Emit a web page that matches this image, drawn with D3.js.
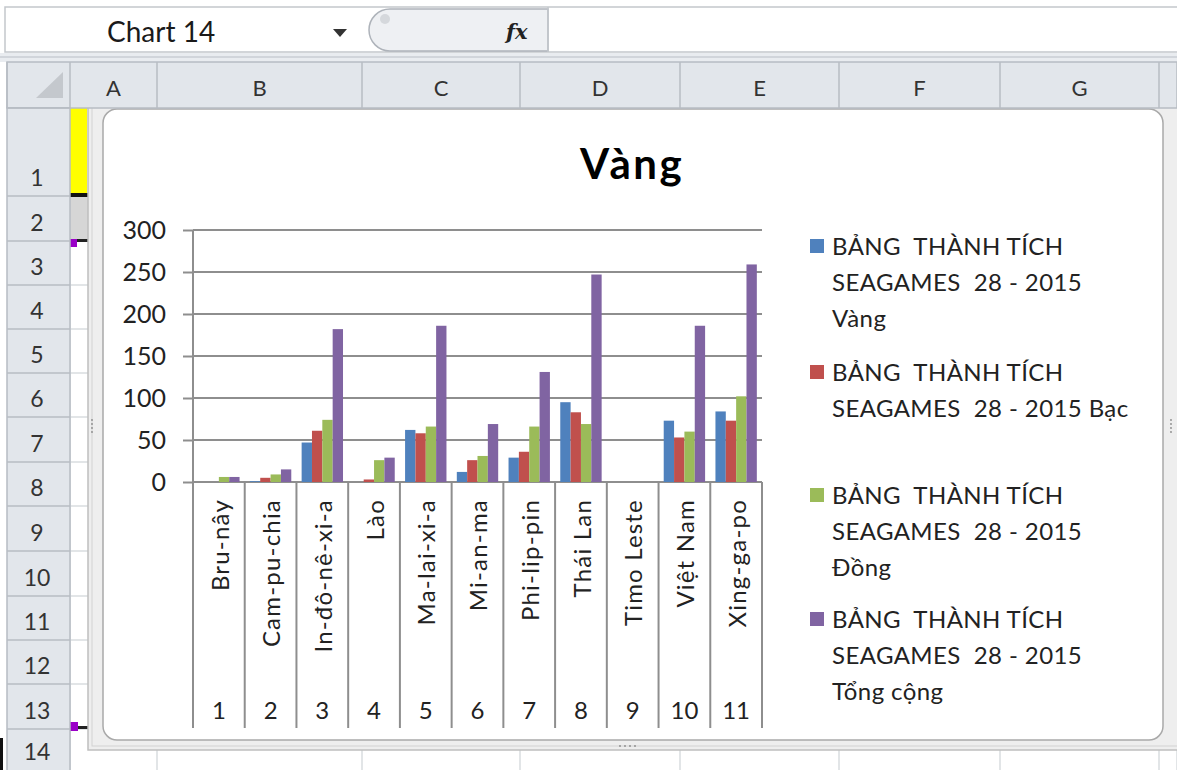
<!DOCTYPE html>
<html>
<head>
<meta charset="utf-8">
<script src="https://cdn.jsdelivr.net/npm/d3@7"></script>
<style>
  html, body { margin: 0; padding: 0; background: #ffffff; }
  svg { display: block; font-family: Lato, "Open Sans", "DejaVu Sans", sans-serif; }
</style>
</head>
<body>
<svg id="sheet" width="1177" height="770"></svg>
<script>
// ---- chart data: SEA Games 28 (2015) medal table ----
const countries = ["Bru-nây", "Cam-pu-chia", "In-đô-nê-xi-a", "Lào", "Ma-lai-xi-a", "Mi-an-ma",
                   "Phi-lip-pin", "Thái Lan", "Timo Leste", "Việt Nam", "Xing-ga-po"];
const rankLabels = ["1", "2", "3", "4", "5", "6", "7", "8", "9", "10", "11"];
const gold   = [0, 1, 47, 0, 62, 12, 29, 95, 0, 73, 84];
const silver = [0, 5, 61, 3, 58, 26, 36, 83, 0, 53, 73];
const bronze = [6, 9, 74, 26, 66, 31, 66, 69, 0, 60, 102];
const total  = [6, 15, 182, 29, 186, 69, 131, 247, 0, 186, 259];
const seriesNames = [
  ["BẢNG  THÀNH TÍCH", "SEAGAMES  28 - 2015", "Vàng"],
  ["BẢNG  THÀNH TÍCH", "SEAGAMES  28 - 2015 Bạc"],
  ["BẢNG  THÀNH TÍCH", "SEAGAMES  28 - 2015", "Đồng"],
  ["BẢNG  THÀNH TÍCH", "SEAGAMES  28 - 2015", "Tổng cộng"]
];
const seriesColors = ["#4f81bd", "#c0504d", "#9bbb59", "#8064a2"];
const yTicks = [0, 50, 100, 150, 200, 250, 300];
const chartTitle = "Vàng";

// spreadsheet frame
const colLetters = ["A", "B", "C", "D", "E", "F", "G"];
const colEdges = [70, 157, 362, 520, 680, 839, 1000, 1159, 1177];
const rowLabels = ["1", "2", "3", "4", "5", "6", "7", "8", "9", "10", "11", "12", "13", "14"];
const rowEdges = [108, 196, 241, 285, 329, 373, 417, 462, 506, 551, 596, 640, 684, 729, 775];

const svg = d3.select("#sheet");
const hdrFill = "#e2e6eb", hdrLine = "#b7bcc3", gridLine = "#d9dcdf";

// ---------- worksheet background ----------
svg.append("rect").attr("width", 1177).attr("height", 770).attr("fill", "#ffffff");

// cell grid
const cells = svg.append("g");
rowEdges.forEach(y => cells.append("line").attr("x1", 70).attr("x2", 1177)
  .attr("y1", y).attr("y2", y).attr("stroke", gridLine).attr("stroke-width", 1.5));
colEdges.forEach(x => cells.append("line").attr("x1", x).attr("x2", x)
  .attr("y1", 108).attr("y2", 770).attr("stroke", gridLine).attr("stroke-width", 1.5));

// column A fills
cells.append("rect").attr("x", 70).attr("y", 108).attr("width", 17).attr("height", 86).attr("fill", "#ffff00");
cells.append("rect").attr("x", 88).attr("y", 108).attr("width", 4).attr("height", 86).attr("fill", "#ecec58");
cells.append("rect").attr("x", 70).attr("y", 193).attr("width", 22).attr("height", 4).attr("fill", "#111");
cells.append("rect").attr("x", 70).attr("y", 197).attr("width", 22).attr("height", 43).attr("fill", "#d6d6d6");
cells.append("rect").attr("x", 70).attr("y", 239).attr("width", 7).attr("height", 8).attr("fill", "#9a00c8");
cells.append("rect").attr("x", 77).attr("y", 239).attr("width", 12).attr("height", 3).attr("fill", "#222");
cells.append("rect").attr("x", 70).attr("y", 722).attr("width", 8).attr("height", 9).attr("fill", "#9a00c8");
cells.append("rect").attr("x", 78).attr("y", 726).attr("width", 11).attr("height", 3).attr("fill", "#222");

// ---------- chart object frame ----------
const frame = svg.append("g");
frame.append("rect").attr("x", 88).attr("y", 100).attr("width", 1100).attr("height", 650)
  .attr("fill", "#eeeeee").attr("stroke", "#bfbfbf").attr("stroke-width", 1.5);
frame.append("rect").attr("x", 92).attr("y", 104).attr("width", 1090).attr("height", 642)
  .attr("fill", "none").attr("stroke", "#d2d2d2").attr("stroke-width", 1);
frame.append("rect").attr("x", 103).attr("y", 109).attr("width", 1060).attr("height", 631)
  .attr("rx", 14).attr("fill", "#ffffff").attr("stroke", "#a9a9a9").attr("stroke-width", 1.5);
[0, 1, 2, 3].forEach(k => {
  frame.append("circle").attr("cx", 92).attr("cy", 420 + k * 4).attr("r", 0.9).attr("fill", "#8a8a8a");
  frame.append("circle").attr("cx", 620 + k * 5).attr("cy", 746).attr("r", 0.9).attr("fill", "#8a8a8a");
  frame.append("circle").attr("cx", 1171).attr("cy", 420 + k * 4).attr("r", 0.9).attr("fill", "#8a8a8a");
});

// ---------- formula bar ----------
const fb = svg.append("g");
fb.append("rect").attr("x", 0).attr("y", 0).attr("width", 1177).attr("height", 62).attr("fill", "#ffffff");
fb.append("rect").attr("x", 5).attr("y", 7).attr("width", 1180).attr("height", 45)
  .attr("fill", "#ffffff").attr("stroke", "#c3c7cc").attr("stroke-width", 1.5);
fb.append("text").attr("x", 107).attr("y", 42).attr("font-size", 28).attr("fill", "#1a1a1a").text("Chart 14");
fb.append("path").attr("d", "M333,29 L347,29 L340,37 Z").attr("fill", "#333");
fb.append("path").attr("d", "M548,9 L390,9 A21,21 0 0 0 390,51 L548,51 Z")
  .attr("fill", "#eef0f3").attr("stroke", "#aeb3ba").attr("stroke-width", 1.5);
fb.append("circle").attr("cx", 385).attr("cy", 19).attr("r", 5).attr("fill", "#d5d8dc");
fb.append("text").attr("x", 506).attr("y", 39).attr("font-family", "'DejaVu Serif', serif")
  .attr("font-style", "italic").attr("font-weight", "bold").attr("font-size", 21).attr("fill", "#222").text("fx");
fb.append("line").attr("x1", 548).attr("x2", 548).attr("y1", 7).attr("y2", 52).attr("stroke", "#c3c7cc").attr("stroke-width", 1.5);
fb.append("rect").attr("x", 0).attr("y", 53).attr("width", 1177).attr("height", 9).attr("fill", "#e9ecf0");
fb.append("line").attr("x1", 0).attr("x2", 1177).attr("y1", 57).attr("y2", 57).attr("stroke", "#c9ced4").attr("stroke-width", 1.5);

// ---------- column headers ----------
const ch = svg.append("g");
ch.append("rect").attr("x", 7).attr("y", 62).attr("width", 1170).attr("height", 46)
  .attr("fill", hdrFill).attr("stroke", hdrLine).attr("stroke-width", 1.5);
ch.append("path").attr("d", "M36,98 L63,98 L63,72 Z").attr("fill", "#c4c8cd");
[7, ...colEdges.slice(0, 8)].forEach(x => ch.append("line").attr("x1", x).attr("x2", x)
  .attr("y1", 62).attr("y2", 108).attr("stroke", hdrLine).attr("stroke-width", 1.5));
colLetters.forEach((c, i) => ch.append("text")
  .attr("x", (colEdges[i] + colEdges[i + 1]) / 2).attr("y", 96)
  .attr("text-anchor", "middle").attr("font-size", 22).attr("fill", "#333").text(c));

// ---------- row headers ----------
const rh = svg.append("g");
rh.append("rect").attr("x", 7).attr("y", 108).attr("width", 63).attr("height", 670)
  .attr("fill", hdrFill).attr("stroke", hdrLine).attr("stroke-width", 1.5);
rowLabels.forEach((r, i) => {
  rh.append("line").attr("x1", 7).attr("x2", 70).attr("y1", rowEdges[i]).attr("y2", rowEdges[i])
    .attr("stroke", hdrLine).attr("stroke-width", 1.5);
  rh.append("text").attr("x", 37).attr("y", Math.min(rowEdges[i + 1], 770) - 10)
    .attr("text-anchor", "middle").attr("font-size", 23).attr("fill", "#333").text(r);
});
rh.append("rect").attr("x", 0).attr("y", 738).attr("width", 3).attr("height", 32).attr("fill", "#111");

// ---------- chart ----------
const plot = { left: 193, right: 762, top: 230, bottom: 482 };
const catBottom = 728;

const y = d3.scaleLinear().domain([0, 300]).range([plot.bottom, plot.top]);
const x0 = d3.scaleBand().domain(countries).range([plot.left, plot.right]).padding(0);
const seriesData = [gold, silver, bronze, total];
const x1 = d3.scaleBand().domain(d3.range(seriesData.length)).range([0, x0.bandwidth()])
  .paddingInner(0).paddingOuter(0.5);

const chart = svg.append("g");

chart.append("text").attr("x", 632).attr("y", 179).attr("text-anchor", "middle")
  .attr("font-size", 42).attr("font-weight", "bold").attr("letter-spacing", 2.5)
  .attr("fill", "#000").text(chartTitle);

// horizontal gridlines
chart.append("g").selectAll("line").data(yTicks).join("line")
  .attr("x1", plot.left).attr("x2", plot.right)
  .attr("y1", d => y(d)).attr("y2", d => y(d))
  .attr("stroke", "#8e8e8e").attr("stroke-width", 2);

// value axis
const yAxis = chart.append("g").attr("transform", `translate(${plot.left},0)`)
  .call(d3.axisLeft(y).tickValues(yTicks).tickSize(10).tickPadding(17));
yAxis.select(".domain").remove();
yAxis.selectAll(".tick line").attr("stroke", "#8e8e8e").attr("stroke-width", 2);
yAxis.selectAll(".tick text").attr("font-family", "Lato, 'Open Sans', sans-serif")
  .attr("font-size", 25).attr("fill", "#222");

// bars
const groups = chart.append("g").selectAll("g").data(countries).join("g")
  .attr("transform", d => `translate(${x0(d)},0)`);
groups.selectAll("rect")
  .data((d, ci) => seriesData.map((s, si) => ({ si, v: s[ci] })))
  .join("rect")
  .attr("x", d => x1(d.si)).attr("width", x1.bandwidth())
  .attr("y", d => y(d.v)).attr("height", d => y(0) - y(d.v))
  .attr("fill", d => seriesColors[d.si]);

// category axis with two label levels
const edges = countries.map(c => x0(c)).concat([plot.right]);
chart.append("line").attr("x1", plot.left).attr("x2", plot.left)
  .attr("y1", plot.top).attr("y2", catBottom).attr("stroke", "#8e8e8e").attr("stroke-width", 2);
chart.append("g").selectAll("line").data(edges.slice(1)).join("line")
  .attr("x1", d => d).attr("x2", d => d).attr("y1", plot.bottom).attr("y2", catBottom)
  .attr("stroke", "#8e8e8e").attr("stroke-width", 2);
chart.append("g").selectAll("text").data(countries).join("text")
  .attr("transform", d => `translate(${x0(d) + x0.bandwidth() / 2 + 1},${plot.bottom + 17}) rotate(-90)`)
  .attr("text-anchor", "end").attr("dy", "0.36em")
  .attr("font-size", 24).attr("letter-spacing", 1.2).attr("fill", "#222")
  .text(d => d);
chart.append("g").selectAll("text").data(rankLabels).join("text")
  .attr("x", (d, i) => x0(countries[i]) + x0.bandwidth() / 2).attr("y", 719)
  .attr("text-anchor", "middle").attr("font-size", 24).attr("fill", "#222")
  .text(d => d);

// legend
const legendTop = [246, 372, 495, 619];
const legend = chart.append("g");
seriesNames.forEach((lines, i) => {
  legend.append("rect").attr("x", 810).attr("y", legendTop[i] - 7).attr("width", 14).attr("height", 14)
    .attr("fill", seriesColors[i]);
  lines.forEach((ln, j) => legend.append("text")
    .attr("x", 832).attr("y", legendTop[i] + j * 36).attr("dy", "0.36em")
    .attr("font-size", 24).attr("letter-spacing", 0.4).attr("fill", "#222")
    .style("white-space", "pre").text(ln));
});
</script>
</body>
</html>
